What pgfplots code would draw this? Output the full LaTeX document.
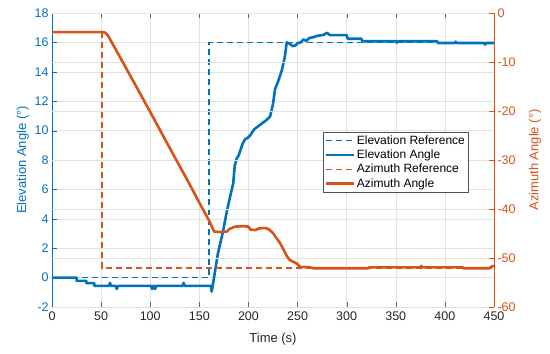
\documentclass[border=0pt]{standalone}
\usepackage{pgfplots}
\pgfplotsset{compat=1.18}
\usepackage{fontspec}
\setmainfont{Liberation Sans}
\definecolor{mblue}{RGB}{0,114,189}
\definecolor{morange}{RGB}{217,83,25}
\definecolor{mgray}{RGB}{38,38,38}
\definecolor{gridc}{RGB}{225,225,225}
\begin{document}
\begin{tikzpicture}
\pgfplotsset{
  base/.style={
    scale only axis, width=442pt, height=294pt, at={(0,0)}, anchor=south west,
    xmin=0, xmax=450, xtick={0,50,...,450},
    tick align=inside, major tick length=5pt,
    /pgf/number format/assume math mode=true,
    tick label style={font=\fontsize{12.5}{14}\selectfont},
    label style={font=\fontsize{13}{15}\selectfont},
    grid style={gridc, line width=0.5pt},
  }
}
\begin{axis}[base,
  ymin=-2, ymax=18, ytick={-2,0,...,18},
  axis y line*=left,
  xmajorgrids, ymajorgrids,
  y axis line style={draw=mblue},
  x axis line style={draw=mgray!70},
  ytick style={draw=mblue}, xtick style={draw=mgray!70},
  yticklabel style={text=mblue}, xticklabel style={text=mgray, yshift=-1.5pt},
  xlabel={Time (s)}, ylabel={Elevation Angle (°)},
  xlabel style={text=mgray, at={(axis description cs:0.5,-0.108)}, anchor=center},
  ylabel style={text=mblue, at={(axis description cs:-0.066,0.5)}, anchor=center},
]
\addplot[mblue, line width=1.5pt, dash pattern=on 6pt off 4pt] coordinates {(0,0)(160,0)(160,16)(450,16)};
\addplot[mblue, line width=2.6pt, line join=round] coordinates {
(0,0)(25,0)(25,-0.22)(35,-0.22)(35,-0.38)(43,-0.38)(43,-0.56)(58,-0.56)(59,-0.36)(60,-0.56)
(65,-0.56)(66,-0.78)(67,-0.56)(101,-0.56)(102,-0.78)(103,-0.56)(104,-0.56)(105,-0.78)(106,-0.56)
(133,-0.56)(134,-0.36)(135,-0.56)(162,-0.56)(162.6,-0.95)(163.5,-0.6)
(169,1.67)(174,3.1)(178,4.5)(182,5.7)(184.5,6.4)(186,7.6)(188,8.1)(190,8.3)(191.5,8.6)
(194,9.1)(196.5,9.4)(199,9.5)(202,9.7)(206,10.1)(210,10.3)(214,10.5)(218,10.7)(222,10.95)
(225,11.8)(227,12.8)(230,13.3)(234,14.1)(237,15.0)(239,16.0)(242,15.9)(245,15.75)(248,15.8)
(250,15.95)(253,16.0)(256,16.2)(259,16.1)(262,16.3)(266,16.35)(270,16.45)(276,16.5)(280,16.65)
(283,16.5)(300,16.5)(301,16.25)(315,16.25)(316,16.08)(350,16.08)(351,15.98)(352,16.08)(392,16.08)
(393,15.96)(410,15.96)(411,16.05)(412,15.96)(440,15.96)(441,15.85)(442,15.96)(450,15.96)};
\end{axis}
\begin{axis}[base,
  ymin=-60, ymax=0, ytick={-60,-50,...,0},
  axis y line*=right, axis x line=none,
  ymajorgrids,
  y axis line style={draw=morange},
  ytick style={draw=morange},
  yticklabel style={text=morange},
  ylabel={Azimuth Angle (°)},
  ylabel style={text=morange, at={(axis description cs:1.093,0.5)}, anchor=center, rotate=0},
  legend image code/.code={\draw[#1] (0pt,0pt) -- (28pt,0pt);},
  legend style={at={(0.613,0.595)}, anchor=north west, draw=mgray!80, fill=white,
    font=\fontsize{12}{13.5}\selectfont, row sep=1pt, inner sep=1.5pt,
    nodes={inner sep=1.6pt}},
  legend cell align=left,
]
\addlegendimage{mblue, line width=1.5pt, dash pattern=on 6pt off 4pt}
\addlegendentry{Elevation Reference}
\addlegendimage{mblue, line width=2.6pt}
\addlegendentry{Elevation Angle}
\addplot[morange, line width=1.5pt, dash pattern=on 6pt off 4pt] coordinates {(0,-3.9)(51,-3.9)(51,-52)(450,-52)};
\addlegendentry{Azimuth Reference}
\addplot[morange, line width=2.6pt, line join=round] coordinates {
(0,-3.9)(52,-3.9)(54,-4.0)(57,-4.6)(80,-12.9)(100,-20.2)(120,-27.6)(140.5,-35.1)(150,-38.7)
(160,-42.4)(163,-43.7)(165,-44.6)(172,-44.7)(178,-44.6)(181,-44.0)(183,-43.9)(186,-43.6)
(195,-43.5)(200,-43.6)(202,-44.2)(207,-44.3)(210,-44.0)(214,-43.9)(218,-43.9)(221,-44.2)
(225,-44.9)(228,-45.8)(232,-46.9)(236,-48.4)(239,-49.6)(242,-50.4)(246,-50.8)(249,-51.1)
(252.6,-51.8)(255,-51.8)(262,-51.9)(267,-52.1)(300,-52.1)(322,-52.1)(323,-51.9)(375,-51.9)
(376,-51.6)(377,-51.9)(418,-51.9)(419,-52.1)(445,-52.1)(448,-51.7)(450,-51.6)};
\addlegendentry{Azimuth Angle}
\end{axis}
\pgfresetboundingbox
\useasboundingbox (-52pt,-47pt) rectangle (498pt,307pt);
\end{tikzpicture}
\end{document}
